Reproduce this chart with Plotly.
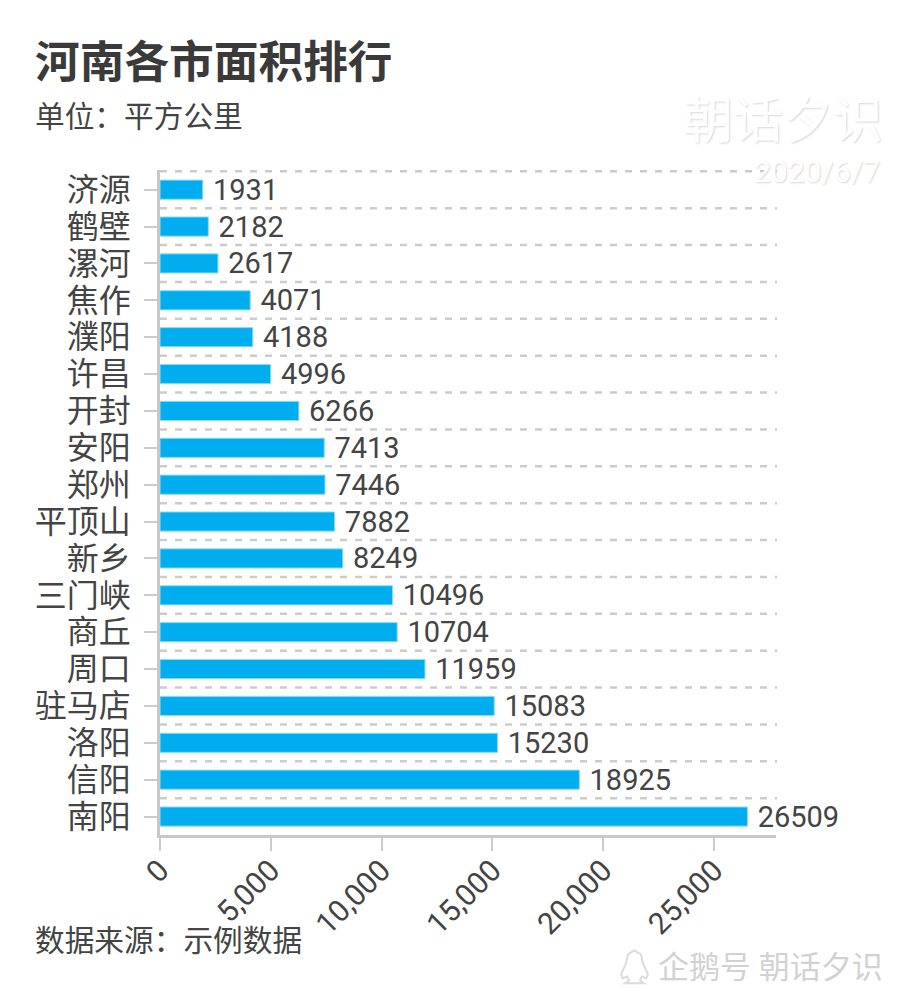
import plotly.graph_objects as go

cities = ["济源","鹤壁","漯河","焦作","濮阳","许昌","开封","安阳","郑州","平顶山","新乡","三门峡","商丘","周口","驻马店","洛阳","信阳","南阳"]
areas = [1931,2182,2617,4071,4188,4996,6266,7413,7446,7882,8249,10496,10704,11959,15083,15230,18925,26509]
x_ticks = [0,5000,10000,15000,20000,25000]

FONT = "Roboto, 'Noto Sans CJK SC', sans-serif"
W, H = 903, 1000
L, R, T, B = 160, 776, 170, 835.5

fig = go.Figure(go.Bar(
    x=areas, y=cities, orientation="h",
    marker=dict(color="#00aeef", line=dict(width=1, color="#8fdcf8")),
    text=[f"\u00a0{a}" for a in areas], texttemplate="%{text}", textposition="outside",
    textfont=dict(size=29, color="#444444", family=FONT),
    constraintext="none",
    cliponaxis=False, width=0.52, hoverinfo="skip",
))

def px(x):
    return (x-L)/(R-L)
def py(y):
    return (B-y)/(B-T)

shapes = [dict(type="line", xref="paper", x0=0, x1=px(777), yref="y", y0=i-0.5, y1=i-0.5,
               line=dict(color="#cccccc", width=2.5, dash="7px,8px"), layer="below")
          for i in range(len(cities))]

# penguin logo outline next to the bottom watermark
pts = [(634,951),(628,955),(626,964),(621,975),(623,979),(627,977),(629,981),(625,984),(644,984),(640,981),(642,977),(646,979),(648,975),(643,964),(641,955)]
path = "M " + " L ".join(f"{px(a):.4f} {py(b):.4f}" for a, b in pts) + " Z"
shapes.append(dict(type="path", xref="paper", yref="paper", path=path,
                   line=dict(color="#dcdcdc", width=2), fillcolor="#ffffff"))

def txt(x, y, s, size, color="#444444", weight="normal", shadow=None, anchor="left"):
    return dict(xref="paper", yref="paper",
                x=px(x), y=py(y), xanchor=anchor, yanchor="middle",
                text=s, showarrow=False,
                font=dict(size=size, color=color, family=FONT, weight=weight,
                          **({"shadow": shadow} if shadow else {})))

annotations = [
    txt(33, 63, "河南各市面积排行", 44.7, "#3a3a3a", "bold"),
    txt(33, 116, "单位：平方公里", 29.7),
    txt(33, 941, "数据来源：示例数据", 29.7),
    txt(885, 121, "朝话夕识", 50, "#ffffff", shadow="1px 1px 2px #d8d8d8", anchor="right"),
    txt(882, 172, "2020/6/7", 30, "#ffffff", shadow="1px 1px 2px #d8d8d8", anchor="right"),
    txt(885, 968, "企鹅号 朝话夕识", 31, "#d2d2d2", anchor="right"),
]

fig.update_layout(
    width=W, height=H, showlegend=False,
    paper_bgcolor="#ffffff", plot_bgcolor="#ffffff",
    margin=dict(l=L, r=W-R, t=T, b=H-B, autoexpand=False),
    shapes=shapes, annotations=annotations,
    font=dict(family=FONT),
    xaxis=dict(range=[0, 27798], tickvals=x_ticks, tickformat=",d", tickangle=-45,
               tickfont=dict(size=30, color="#444444"), ticks="outside", ticklen=13,
               ticklabelstandoff=-10,
               tickwidth=2, tickcolor="#cccccc", showline=True, linecolor="#c8c8c8",
               linewidth=2.5, showgrid=False, zeroline=False),
    yaxis=dict(autorange="reversed", categoryorder="array", categoryarray=cities,
               tickmode="array", tickvals=cities, ticktext=cities,
               tickfont=dict(size=32, color="#444444"), ticks="outside", ticklen=13,
               ticklabelstandoff=7,
               tickwidth=2, tickcolor="#cccccc", showline=True, linecolor="#c8c8c8",
               linewidth=2.5, showgrid=False, zeroline=False),
)

fig.write_html("out.html", config={"displayModeBar": False},
               post_script="document.body.style.margin='0';document.body.style.overflow='hidden';")
